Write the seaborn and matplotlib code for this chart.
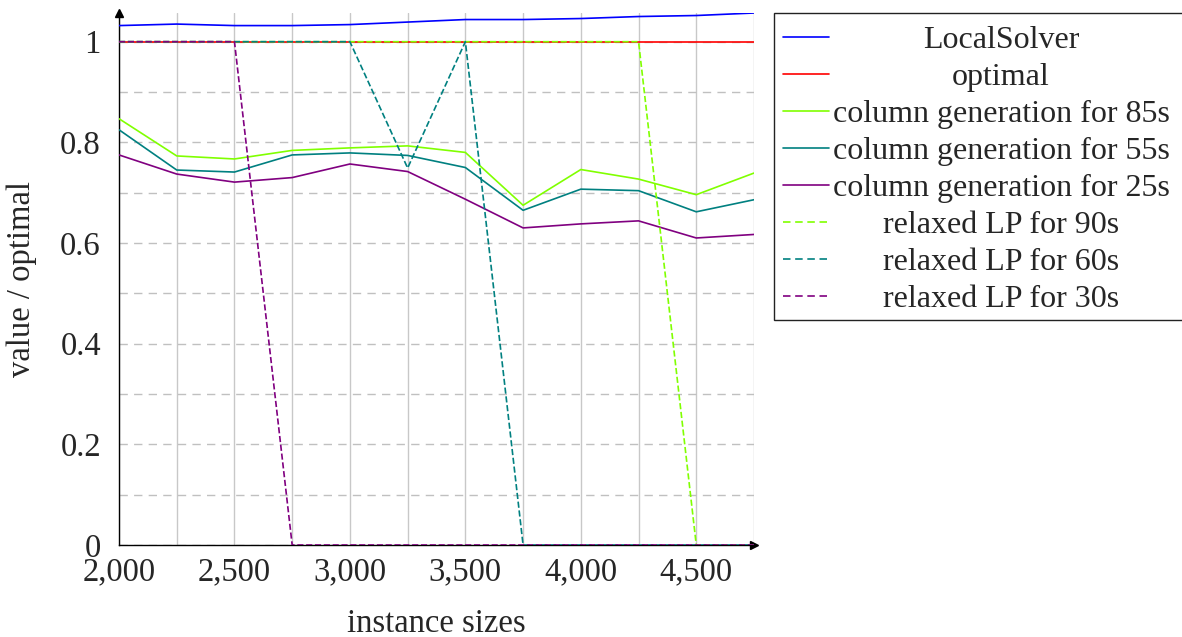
import numpy as np
import pandas as pd
import matplotlib
matplotlib.use("Agg")
import matplotlib.pyplot as plt
import matplotlib.ticker as ticker
from matplotlib.lines import Line2D
from matplotlib.patches import Rectangle
import seaborn as sns

# instance sizes on the x axis
sizes = [2000, 2250, 2500, 2750, 3000, 3250, 3500, 3750, 4000, 4250, 4500, 4750]

local_solver = [1.032, 1.035, 1.032, 1.032, 1.034, 1.039, 1.044, 1.044, 1.046, 1.050, 1.052, 1.057]
optimal = [1, 1, 1, 1, 1, 1, 1, 1, 1, 1, 1, 1]
colgen_85 = [0.847, 0.773, 0.767, 0.784, 0.789, 0.793, 0.780, 0.675, 0.746, 0.727, 0.696, 0.739]
colgen_55 = [0.825, 0.745, 0.741, 0.775, 0.779, 0.774, 0.750, 0.665, 0.707, 0.704, 0.662, 0.686]
colgen_25 = [0.775, 0.737, 0.721, 0.730, 0.757, 0.742, 0.687, 0.630, 0.638, 0.644, 0.610, 0.617]
lp_90 = [1, 1, 1, 1, 1, 1, 1, 1, 1, 1, 0, 0]
lp_60 = [1, 1, 1, 1, 1, 0.749, 1, 0, 0, 0, 0, 0]
lp_30 = [1, 1, 1, 0, 0, 0, 0, 0, 0, 0, 0, 0]

series = [
    ("LocalSolver", local_solver, "#0000ff", "-"),
    ("optimal", optimal, "#ff0000", "-"),
    ("column generation for 85s", colgen_85, "#80ff00", "-"),
    ("column generation for 55s", colgen_55, "#008080", "-"),
    ("column generation for 25s", colgen_25, "#800080", "-"),
    ("relaxed LP for 90s", lp_90, "#80ff00", "--"),
    ("relaxed LP for 60s", lp_60, "#008080", "--"),
    ("relaxed LP for 30s", lp_30, "#800080", "--"),
]

FS = 23.5
DASH = (4.5, 2.8)

sns.set_style("white")
plt.rcParams["font.family"] = ["Liberation Serif", "DejaVu Serif"]
plt.rcParams["mathtext.fontset"] = "stix"

W, H = 1182, 637
fig = plt.figure(figsize=(W / 100, H / 100), dpi=100)
ax = fig.add_axes([119 / W, 1 - 545 / H, (754 - 119) / W, (545 - 13) / H])

for name, vals, color, ls in series:
    df = pd.DataFrame({"size": sizes, "value": vals})
    kw = {"dashes": DASH} if ls == "--" else {}
    sns.lineplot(data=df, x="size", y="value", color=color, linewidth=1.2,
                 linestyle=ls, ax=ax, label=None, zorder=3, **kw)

ax.set_xlim(min(sizes), max(sizes))
ax.set_ylim(0, max(local_solver))

ax.set_xticks(np.arange(2000, 4751, 500))
ax.xaxis.set_minor_locator(ticker.MultipleLocator(250))
ax.xaxis.set_major_formatter(ticker.FuncFormatter(lambda v, p: f"{int(v):,}"))
ax.set_yticks([0, 0.2, 0.4, 0.6, 0.8, 1.0])
ax.set_yticks(np.arange(0.1, 1.0, 0.2), minor=True)
ax.yaxis.set_major_formatter(ticker.FuncFormatter(lambda v, p: f"{v:g}"))

ax.set_axisbelow(True)
ax.xaxis.grid(True, which="both", color="#c8c8c8", linewidth=1.0, linestyle="-")
ax.yaxis.grid(True, which="both", color="#c0c0c0", linewidth=1.0, linestyle=(0, (6, 4.5)))

ax.tick_params(axis="both", which="both", direction="inout", width=0.8,
               color="#555555", labelsize=FS)
ax.tick_params(axis="x", which="both", length=6.5, pad=5)
ax.tick_params(axis="y", which="both", length=8, pad=9)

for s in ["top", "right"]:
    ax.spines[s].set_visible(False)
for s in ["left", "bottom"]:
    ax.spines[s].set_color("black")
    ax.spines[s].set_linewidth(1.0)

# axis arrows
ax.plot(1, 0, marker=">", color="black", markersize=6, transform=ax.transAxes, clip_on=False)
ax.plot(0, 1, marker="^", color="black", markersize=6, transform=ax.transAxes, clip_on=False)

ax.set_xlabel("instance sizes", fontsize=FS)
ax.xaxis.label.set_verticalalignment("baseline")
ax.xaxis.set_label_coords(0.5, -(632 - 545) / 532)
ax.set_ylabel("value / optimal", fontsize=FS)
ax.yaxis.label.set_verticalalignment("center")
ax.yaxis.set_label_coords(-(119 - 22) / 635, 0.5)

# legend, pgfplots style: handles on the left, entries centred
fx = lambda px: px / W
fy = lambda py: 1 - py / H
fig.add_artist(Rectangle((fx(774), fy(320)), fx(1190) - fx(774), fy(13) - fy(320),
                         transform=fig.transFigure, facecolor="white",
                         edgecolor="#222222", linewidth=1.0))
for i, (name, vals, color, ls) in enumerate(series):
    y = 37 + i * 37.0
    ln = Line2D([fx(783), fx(829)], [fy(y), fy(y)], transform=fig.transFigure,
                color=color, linewidth=1.2, linestyle=ls)
    if ls == "--":
        ln.set_dashes(DASH)
    fig.add_artist(ln)
    fig.text(fx(1001), fy(y), name, ha="center", va="center_baseline", fontsize=23)

fig.savefig("out.png", dpi=100)
